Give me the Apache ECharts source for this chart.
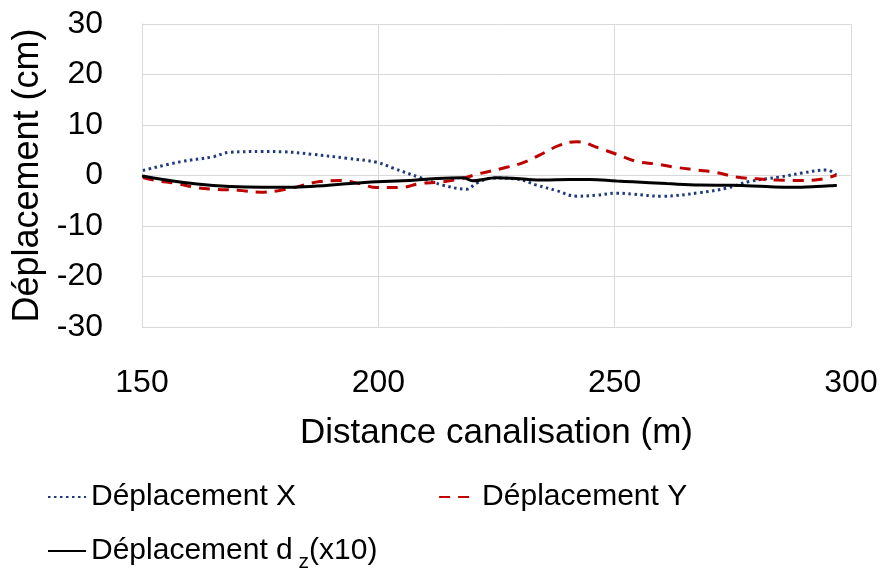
<!DOCTYPE html>
<html><head><meta charset="utf-8">
<script src="https://cdn.jsdelivr.net/npm/echarts@6/dist/echarts.min.js"></script>
<style>html,body{margin:0;padding:0;background:#fff}#c{width:882px;height:574px}</style>
</head><body><div id="c"></div>
<script>
const xTicks = [150, 200, 250, 300];
const yTicks = [-30, -20, -10, 0, 10, 20, 30];
const distX = [150.2, 158, 165, 168.6, 175.6, 179.8, 186, 193.3, 199.7, 203, 208.8, 213.6, 218.7, 220.8, 224.2, 229.3, 233.5, 237.7, 242, 246.2, 250.4, 253.8, 260, 268, 273.7, 278.5, 284.9, 289.7, 294.8, 296.9];
const depX = [1.0, 2.7, 3.7, 4.6, 4.75, 4.7, 4.2, 3.4, 2.6, 1.5, -0.4, -1.9, -2.7, -1.5, -0.5, -0.7, -1.9, -3.0, -4.1, -3.9, -3.5, -3.7, -4.1, -3.4, -2.5, -1.2, -0.3, 0.5, 1.1, 0.1];
const distY = [150.2, 153, 157.4, 161.6, 166, 170.3, 175, 178.8, 183.4, 187.6, 191.9, 196, 199.7, 204.5, 208.8, 213, 217.2, 221.5, 225.7, 230.5, 234, 238.4, 242, 246.8, 250.4, 254.6, 258.9, 263.1, 267.3, 271.5, 275.8, 280, 284.2, 289.1, 293.3, 296.9];
const depY = [-0.4, -1.0, -1.6, -2.4, -2.75, -2.9, -3.3, -3.0, -2.1, -1.2, -1.0, -1.6, -2.4, -2.4, -1.6, -1.3, -0.7, 0.4, 1.3, 2.5, 4.0, 6.0, 6.7, 5.4, 4.2, 2.8, 2.25, 1.6, 1.1, 0.6, -0.3, -0.65, -0.9, -1.0, -0.8, 0.1];
const distD = [150, 154.4, 161.6, 168.6, 175.6, 181.3, 187, 192.5, 199.7, 205.2, 212.4, 217.9, 220, 225, 229.9, 234.8, 240.5, 244.7, 250.4, 253.8, 261, 268, 274.9, 282.1, 287.6, 292.7, 297];
const depD = [-0.1, -0.8, -1.7, -2.2, -2.35, -2.35, -2.1, -1.7, -1.25, -1.05, -0.6, -0.45, -1.05, -0.45, -0.65, -0.9, -0.8, -0.8, -1.1, -1.25, -1.6, -1.9, -1.95, -2.2, -2.35, -2.2, -1.95];
const seriesNames = ['Déplacement X', 'Déplacement Y', 'Déplacement d_z (x10)'];

const pairs = (xs, ys) => xs.map((x, i) => [x, ys[i]]);
const FONT = 'Liberation Sans';
const chart = echarts.init(document.getElementById('c'), null, {renderer: 'canvas'});
const legendCommon = {
  itemWidth: 38, itemHeight: 14, padding: 0,
  itemStyle: {opacity: 0, borderWidth: 0},
};
chart.setOption({
  animation: false,
  textStyle: {fontFamily: FONT},
  grid: {left: 142, right: 31, top: 24, bottom: 247, containLabel: false},
  xAxis: {
    type: 'value', min: 150, max: 300, interval: 50,
    name: 'Distance canalisation (m)', nameLocation: 'middle', nameGap: 89,
    nameTextStyle: {fontSize: 35, color: '#000', fontFamily: FONT},
    axisLine: {show: true, lineStyle: {color: '#d9d9d9'}},
    axisTick: {show: false},
    axisLabel: {fontSize: 32, color: '#000', margin: 40, fontFamily: FONT},
    splitLine: {show: true, lineStyle: {color: '#d9d9d9', width: 1}}
  },
  yAxis: {
    type: 'value', min: -30, max: 30, interval: 10,
    name: 'Déplacement (cm)', nameLocation: 'middle', nameGap: 96, nameRotate: 90,
    nameTextStyle: {fontSize: 36, color: '#000', fontFamily: FONT},
    axisLine: {show: true, lineStyle: {color: '#d9d9d9'}},
    axisTick: {show: false},
    axisLabel: {fontSize: 32, color: '#000', margin: 39, fontFamily: FONT},
    splitLine: {show: true, lineStyle: {color: '#d9d9d9', width: 1}}
  },
  legend: [Object.assign({
    data: [seriesNames[0], seriesNames[1]],
    left: 47, top: 482, itemGap: 142,
    textStyle: {fontSize: 30, color: '#000', fontFamily: FONT}
  }, legendCommon), Object.assign({
    data: [seriesNames[2]],
    left: 47, top: 536,
    formatter: () => '{a|Déplacement d}{s| z}{a|(x10)}',
    textStyle: {fontSize: 30, color: '#000', fontFamily: FONT,
      rich: {a: {fontSize: 30, fontFamily: FONT, color: '#000'},
             s: {fontSize: 21, fontFamily: FONT, color: '#000', padding: [22, 0, 0, 0]}}}
  }, legendCommon)],
  series: [
    {name: seriesNames[0], type: 'line', smooth: 0.4, symbol: 'none', data: pairs(distX, depX),
     lineStyle: {color: '#1f3a7a', width: 3, type: [2.5, 3.5]}, itemStyle: {color: '#1f3a7a'}},
    {name: seriesNames[1], type: 'line', smooth: 0.4, symbol: 'none', data: pairs(distY, depY),
     lineStyle: {color: '#c00000', width: 3, type: [11, 8]}, itemStyle: {color: '#c00000'}},
    {name: seriesNames[2], type: 'line', smooth: 0.4, symbol: 'none', data: pairs(distD, depD),
     lineStyle: {color: '#000', width: 3}, itemStyle: {color: '#000'}}
  ]
});
</script></body></html>
